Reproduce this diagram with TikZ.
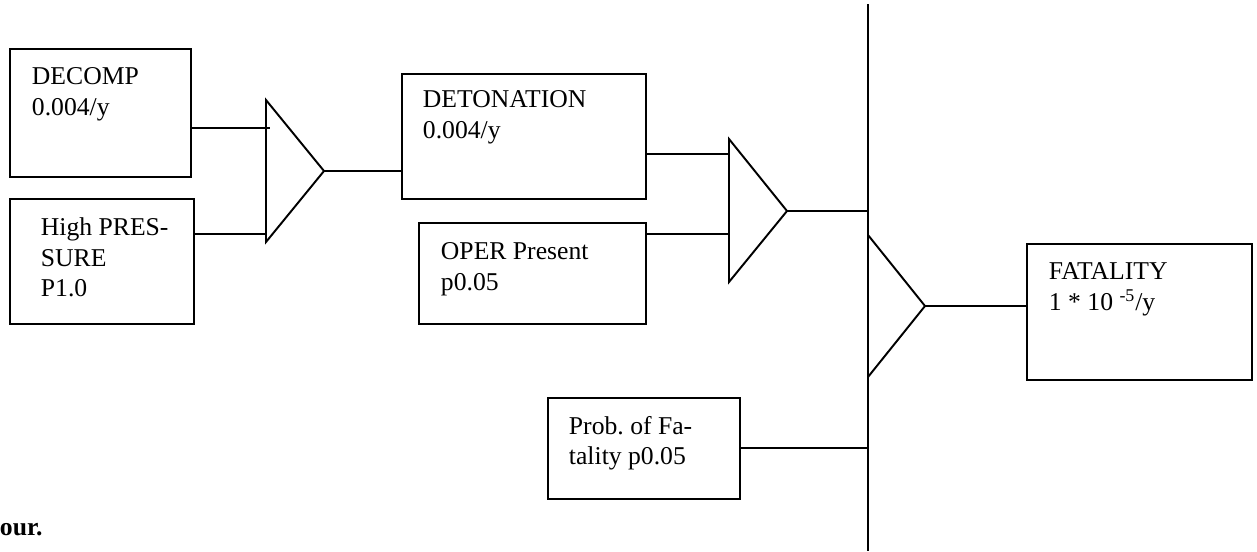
\documentclass[tikz,border=0pt]{standalone}
\usepackage{fontspec}
\setmainfont{Liberation Serif}
\usetikzlibrary{calc}
\frenchspacing

\tikzset{
  box/.style={rectangle, draw, anchor=north west, inner sep=0pt},
  boxtext/.style={anchor=north west, inner sep=0pt, align=left,
    font=\fontsize{14.6}{17.3}\selectfont},
}

\begin{document}
\begin{tikzpicture}[x=0.02cm, y=-0.02cm, line width=1.1pt]
\useasboundingbox (0,0) rectangle (1257,551);
% event boxes
\node[box, minimum width=3.62cm, minimum height=2.56cm] (decomp) at (9,48) {};
\node[boxtext] (decomp-t) at ([xshift=0.44cm, yshift=-0.38cm]decomp.north west) {DECOMP\\0.004/y};
\node[box, minimum width=3.68cm, minimum height=2.50cm] (press) at (9,198) {};
\node[boxtext] (press-t) at ([xshift=0.62cm, yshift=-0.38cm]press.north west) {High PRES-\\SURE\\P1.0};
\node[box, minimum width=4.88cm, minimum height=2.50cm] (deton) at (401,73) {};
\node[boxtext] (deton-t) at ([xshift=0.42cm, yshift=-0.34cm]deton.north west) {DETONATION\\0.004/y};
\node[box, minimum width=4.54cm, minimum height=2.02cm] (oper) at (418,222) {};
\node[boxtext] (oper-t) at ([xshift=0.44cm, yshift=-0.40cm]oper.north west) {OPER Present\\p0.05};
\node[box, minimum width=3.84cm, minimum height=2.02cm] (prob) at (547,397) {};
\node[boxtext] (prob-t) at ([xshift=0.42cm, yshift=-0.36cm]prob.north west) {Prob. of Fa-\\tality p0.05};
\node[box, minimum width=4.50cm, minimum height=2.72cm] (fatal) at (1026,243) {};
\node[boxtext] (fatal-t) at ([xshift=0.44cm, yshift=-0.38cm]fatal.north west) {FATALITY\\1 * 10 \textsuperscript{-5}/y};

% gates
\draw (266,100) coordinate (g1top) -- (324,171) coordinate (g1out) -- (266,242) coordinate (g1bot) -- cycle;
\draw (729,139) coordinate (g2top) -- (787,211) coordinate (g2out) -- (729,282) coordinate (g2bot) -- cycle;
\draw (868,235) coordinate (g3top) -- (925,306) coordinate (g3out) -- (868,377) coordinate (g3bot) -- cycle;
\coordinate (g1in1) at (270,128);
\coordinate (g1in2) at (266,234);
\coordinate (g2in1) at (729,154);
\coordinate (g2in2) at (729,234);
\coordinate (bartop) at (868,4);
\coordinate (barbot) at (868,551);
\draw (bartop) -- (barbot);

% connections
\draw (decomp.east |- g1in1) -- (g1in1);
\draw (press.east |- g1in2) -- (g1in2);
\draw (g1out) -- (g1out -| deton.west);
\draw (deton.east |- g2in1) -- (g2in1);
\draw (oper.east |- g2in2) -- (g2in2);
\draw (g2out) -- (g2out -| bartop);
\draw (prob.east) -- (prob.east -| bartop);
\draw (g3out) -- (g3out -| fatal.west);

\node[anchor=base west, inner sep=0pt, font=\bfseries\fontsize{14.6}{17.3}\selectfont] (note) at (-1,535) {our.};
\end{tikzpicture}
\end{document}
